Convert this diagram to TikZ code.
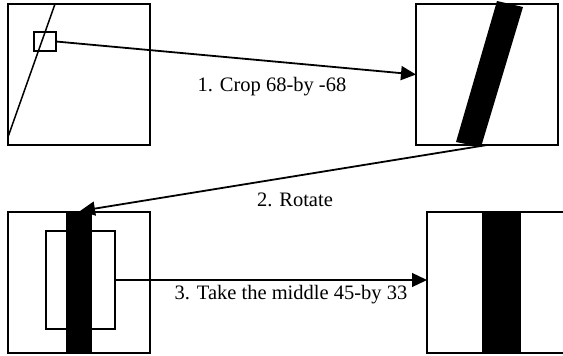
\documentclass[tikz,border=0pt]{standalone}
\usepackage{fontspec}
\setmainfont{Liberation Serif}
\usetikzlibrary{arrows.meta}
\begin{document}
\begin{tikzpicture}[x=1pt,y=-1pt,
  frame/.style={draw,line width=1.9pt,minimum width=142pt,minimum height=141pt,inner sep=0pt,outer sep=0pt,anchor=north west},
  smallsq/.style={draw,line width=1.6pt,inner sep=0pt,outer sep=0pt,anchor=north west},
  conn/.style={line width=1.8pt,-{Triangle[length=15pt,width=14pt]}},
  lbl/.style={font=\fontsize{20.5}{24}\selectfont,inner sep=0pt}]
\useasboundingbox (0,0) rectangle (563,356);
\clip (0,0) rectangle (563,356);
% box 1
\node[frame] (b1) at (8,4) {};
\draw[line width=1.5pt] (55,4) -- (8,137);
\node[smallsq,minimum width=22pt,minimum height=19pt] (sq) at (34,32) {};
% box 2
\node[frame] (b2) at (416,4) {};
\fill (497,1) -- (523,7) -- (481,147) -- (456,142) -- cycle;
\coordinate (s2) at (487,145);
% box 3
\node[frame] (b3) at (8,212) {};
\fill (66,211) rectangle (92,353);
\node[smallsq,minimum width=69pt,minimum height=98pt] (inner) at (46,231) {};
\coordinate (t2) at (80,211);
% box 4
\node[frame] (b4) at (427,212) {};
\fill (482,212) rectangle (521,353);
% connectors
\draw[conn] (sq.east) -- (b2.west);
\draw[conn] (s2) -- (t2);
\draw[conn,line width=1.3pt] (inner.east) -- (inner.east -| b4.west);
% labels
\node[lbl] (l1) at (272,87) {1. Crop 68-by -68};
\node[lbl] (l2) at (295,200) {2. Rotate};
\node[lbl] (l3) at (291,295) {3. Take the middle 45-by 33};
\end{tikzpicture}
\end{document}
